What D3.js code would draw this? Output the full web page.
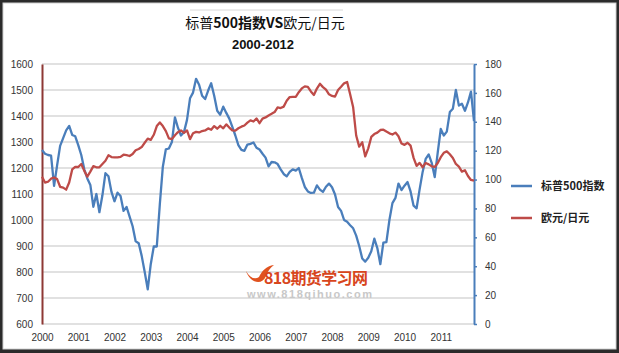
<!DOCTYPE html>
<html>
<head>
<meta charset="utf-8">
<script src="https://cdn.jsdelivr.net/npm/d3@7"></script>
<style>
  html, body { margin: 0; padding: 0; background: #2b2b2b; }
  svg { display: block; }
</style>
</head>
<body>
<svg id="chart" width="619" height="353"></svg>
<script>
/*** DATA ***/
// monthly points, Jan 2000 .. Dec 2011
let years = ["2000","2001","2002","2003","2004","2005","2006","2007","2008","2009","2010","2011"];
let leftTicks  = [600,700,800,900,1000,1100,1200,1300,1400,1500,1600];
let rightTicks = [0,20,40,60,80,100,120,140,160,180];
let seriesNames = ["标普500指数", "欧元/日元"];

// 标普500指数 (left axis)
let spx = [
  1269,1255,1250,1248,1131,1210,1285,1315,1345,1362,1327,1322,
  1288,1250,1195,1160,1135,1051,1100,1030,1095,1180,1168,1108,
  1072,1105,1092,1035,1050,1013,976,918,911,862,800,733,
  830,898,898,1060,1205,1272,1275,1300,1395,1355,1325,1338,
  1385,1468,1490,1543,1520,1478,1465,1498,1526,1478,1420,1405,
  1436,1412,1390,1358,1325,1288,1270,1266,1290,1293,1298,1278,
  1271,1255,1240,1206,1223,1222,1215,1195,1177,1168,1185,1195,
  1190,1200,1162,1127,1110,1104,1105,1133,1117,1108,1128,1140,
  1126,1098,1050,1035,1000,993,980,968,940,900,852,840,
  855,880,928,892,830,913,915,1000,1065,1085,1140,1115,
  1132,1146,1110,1055,1045,1118,1185,1235,1252,1220,1165,1260,
  1350,1325,1340,1415,1428,1500,1440,1447,1420,1452,1494,1380
];

// 欧元/日元 (right axis)
let eurjpy = [
  102,97.9,98.5,100.6,101.4,100.3,95,94.4,93,98,107,108.8,
  108.7,110.8,106,102,105.5,109.3,108.5,108.5,110.8,113,116.8,115.6,
  115.4,115.4,115.7,117.2,116.9,116.3,117.7,120.3,121.2,122.5,125.5,128.3,
  127.5,131,137,139.5,137,133.5,128.5,128,130.7,132.8,134,132.3,
  134,128,132,133,132.6,133.6,134,135.4,134.5,137,135.2,137.2,
  135.5,138.2,136,134,133.9,135.5,136.6,137.4,139.4,141,140.2,142.3,
  139,142.2,143,144.4,145.5,146.7,150,149.5,150.5,154.5,157.1,157.2,
  157.3,160.5,163.1,164.5,164.2,161,158.6,163,166.3,164,162.2,159,
  157.9,157.4,162,164.2,166.6,167.5,159,150,130.5,122.8,125.8,116,
  121.6,129.5,131.5,132.5,134.3,134.5,133.2,132,131.2,132.5,130,125,
  124,125.5,123.5,115,109.5,111.5,108.5,111.5,110.5,109.2,108.7,111.5,
  115.5,118.5,119.5,117.5,115,110.8,109,105.5,106.5,102.5,99.7,99.2
];

/*** SETUP ***/
let svg = d3.select("#chart");
let plot = {left: 42, right: 474, top: 64, bottom: 324};
let blue = "#4a7ebb", red = "#be4b48";
let font = "'Liberation Sans', Arial, sans-serif";
let cjk  = "'Noto Sans CJK SC', 'Liberation Sans', sans-serif";

let x  = d3.scaleLinear().domain([0, spx.length - 1]).range([plot.left, plot.right]);
let yL = d3.scaleLinear().domain([600, 1600]).range([plot.bottom, plot.top]);
let yR = d3.scaleLinear().domain([0, 180]).range([plot.bottom, plot.top]);

// frame
svg.append("rect").attr("x", 3).attr("y", 3).attr("width", 613).attr("height", 346)
    .attr("fill", "#fff").attr("stroke", "#d0d0d0").attr("stroke-width", 1);
svg.append("line").attr("x1", 190).attr("x2", 343).attr("y1", 10).attr("y2", 10)
    .attr("stroke", "#d8d8d8").attr("stroke-width", 1);

// titles
let title = svg.append("text").attr("x", 265).attr("y", 28).attr("text-anchor", "middle")
    .attr("font-family", cjk).attr("font-size", 14).attr("fill", "#111");
title.append("tspan").text("标普");
title.append("tspan").attr("font-weight", "bold").text("500指数VS");
title.append("tspan").text("欧元/日元");

svg.append("text").attr("x", 263).attr("y", 49).attr("text-anchor", "middle")
    .attr("font-family", font).attr("font-size", 13).attr("font-weight", "bold")
    .attr("fill", "#111").text("2000-2012");

// gridlines
svg.append("g").selectAll("line").data(leftTicks).join("line")
    .attr("x1", plot.left).attr("x2", plot.right)
    .attr("y1", d => yL(d)).attr("y2", d => yL(d))
    .attr("stroke", "#c4c4c4").attr("stroke-width", 1.2);

// left axis
let axL = svg.append("g").attr("transform", `translate(${plot.left},0)`)
    .call(d3.axisLeft(yL).tickValues(leftTicks).tickFormat(d3.format("d")).tickSize(0).tickPadding(9));
axL.select(".domain").attr("stroke", "#8e3835").attr("stroke-width", 2);
axL.selectAll("text").attr("font-family", font).attr("font-size", 10).attr("fill", "#333");

// right axis
let axR = svg.append("g").attr("transform", `translate(${plot.right},0)`)
    .call(d3.axisRight(yR).tickValues(rightTicks).tickSize(3).tickSizeOuter(0).tickPadding(8));
axR.select(".domain").attr("stroke", blue).attr("stroke-width", 2);
axR.selectAll(".tick line").attr("stroke", blue).attr("stroke-width", 1.5);
axR.selectAll("text").attr("font-family", font).attr("font-size", 10).attr("fill", "#333");

// x axis labels (one per year)
let axX = svg.append("g").attr("transform", `translate(0,${plot.bottom})`)
    .call(d3.axisBottom(x).tickValues(d3.range(0, spx.length, 12)).tickSize(0).tickPadding(10)
        .tickFormat(d => years[d / 12]));
axX.select(".domain").remove();
axX.selectAll("text").attr("font-family", font).attr("font-size", 10).attr("fill", "#333");

// watermark
let wm = svg.append("g");
wm.append("path")
    .attr("d", "M246,271 C250,283 262,286 266,276 C268,271 270,268 274,265 C266,266 262,271 259,277 C255,280 250,278 246,271 Z")
    .attr("fill", "#e0521f");
wm.append("text").attr("x", 264).attr("y", 284).attr("textLength", 104)
    .attr("font-family", cjk).attr("font-size", 16).attr("font-weight", "bold")
    .attr("fill", "#d8461d").text("818期货学习网");
wm.append("text").attr("x", 247).attr("y", 298).attr("textLength", 125)
    .attr("font-family", font).attr("font-size", 11).attr("font-weight", "bold")
    .attr("fill", "#c8c8c8").text("www.818qihuo.com");

// lines
let lineL = d3.line().x((d, i) => x(i)).y(d => yL(d));
let lineR = d3.line().x((d, i) => x(i)).y(d => yR(d));

svg.append("path").datum(spx).attr("d", lineL)
    .attr("fill", "none").attr("stroke", blue).attr("stroke-width", 2.3).attr("stroke-linejoin", "round");
svg.append("path").datum(eurjpy).attr("d", lineR)
    .attr("fill", "none").attr("stroke", red).attr("stroke-width", 2.3).attr("stroke-linejoin", "round");

// legend
let legend = svg.append("g").selectAll("g").data(seriesNames).join("g")
    .attr("transform", (d, i) => `translate(511,${186 + i * 32})`);
legend.append("line").attr("x1", 0).attr("x2", 21)
    .attr("stroke", (d, i) => i ? red : blue).attr("stroke-width", 2.5);
legend.append("text").attr("x", 30).attr("y", 4)
    .attr("font-family", cjk).attr("font-size", 11).attr("font-weight", "bold")
    .attr("fill", "#222").text(d => d);
</script>
</body>
</html>
